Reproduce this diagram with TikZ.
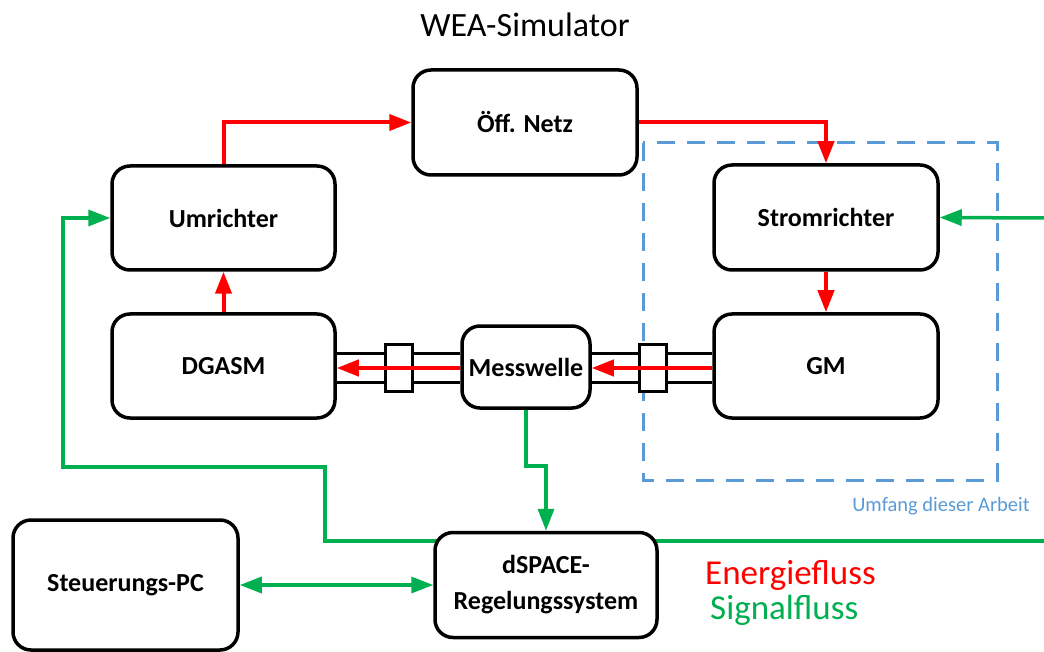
\documentclass[tikz,border=0pt]{standalone}
\usepackage{fontspec}
\setmainfont{Carlito}
\usetikzlibrary{arrows.meta,calc}
\definecolor{enred}{HTML}{FF0000}
\definecolor{sggreen}{HTML}{00B050}
\definecolor{scopeblue}{HTML}{5B9BD5}
\pgfdeclarelayer{background}
\pgfsetlayers{background,main}
\tikzset{
  box/.style={draw=black, line width=3.5pt, rounded corners=18pt, fill=white,
    align=center, font=\fontsize{26}{36}\selectfont\bfseries, inner sep=0pt},
  en/.style={draw=enred, line width=4pt, -{Triangle[length=22pt,width=16pt]}},
  sig/.style={draw=sggreen, line width=3.5pt},
  sigarrow/.style={sig, -{Triangle[length=22pt,width=16pt]}},
  shaft/.style={draw=black, line width=3pt},
  coupling/.style={draw=black, line width=3pt, fill=white, minimum width=27pt, minimum height=47pt, inner sep=0pt},
  scopebox/.style={draw=scopeblue, line width=3pt, dash pattern=on 18pt off 12pt}
}
\begin{document}
\begin{tikzpicture}[x=1pt,y=-1pt]
\useasboundingbox (0,0) rectangle (1044,652);
% title
\node[font=\fontsize{34}{40}\selectfont] (title) at (525,25) {WEA-Simulator};
% scope
\draw[scopebox] (643,143) rectangle (997,480);
\node[font=\fontsize{20.5}{24}\selectfont, text=scopeblue] (scopelbl) at (941,506) {Umfang dieser Arbeit};
% boxes
\node[box, minimum width=224pt, minimum height=105pt] (netz) at (525,122.5) {Öff. Netz};
\node[box, minimum width=223pt, minimum height=104pt] (umr) at (223.5,218) {Umrichter};
\node[box, minimum width=224pt, minimum height=105pt] (strom) at (826,217.5) {Stromrichter};
\node[box, minimum width=223pt, minimum height=104pt] (dgasm) at (223.5,366) {DGASM};
\node[box, minimum width=224pt, minimum height=104pt] (gm) at (826,366) {GM};
\node[box, minimum width=128pt, minimum height=82pt] (mess) at (526,367) {Messwelle};
\node[box, minimum width=225pt, minimum height=130pt] (pc) at (125.5,585) {Steuerungs-PC};
\node[box, minimum width=222pt, minimum height=105pt] (dspace) at (546,585) {dSPACE-\\Regelungssystem};
% couplings
\node[coupling] (c1) at (398.5,367.5) {};
\node[coupling] (c2) at (653,367.5) {};
% free ends / bends
\coordinate (eR1) at (1044,218);
\coordinate (eR2) at (1044,541);
\coordinate (gA) at (325,541);
\coordinate (gB) at (325,467);
\coordinate (gC) at (63,467);
\begin{pgfonlayer}{background}
  % shafts
  \draw[shaft] (dgasm.east |- 0,353) -- (mess.west |- 0,353);
  \draw[shaft] (dgasm.east |- 0,382) -- (mess.west |- 0,382);
  \draw[shaft] (mess.east |- 0,353) -- (gm.west |- 0,353);
  \draw[shaft] (mess.east |- 0,382) -- (gm.west |- 0,382);
  % green lines hidden under boxes
  \draw[sigarrow] (dspace.center |- gA) -- (gA) -- (gB) -- (gC) |- (umr.west);
  \draw[sig] (dspace.center |- eR2) -- (eR2);
\end{pgfonlayer}
% energy flow
\draw[en] (umr.north) |- (netz.west);
\draw[en] (netz.east) -| (strom.north);
\draw[en] (strom.south) -- (gm.north);
\draw[en] (dgasm.north) -- (umr.south);
\draw[en] (mess.west |- 0,368) -- (dgasm.east |- 0,368);
\draw[en] (gm.west |- 0,368) -- (mess.east |- 0,368);
% signal flow
\draw[sigarrow] (eR1) -- (strom.east);
\draw[sigarrow] (mess.south) -- ++(0,56) -| (dspace.north);
\draw[sig, {Triangle[length=22pt,width=16pt]}-{Triangle[length=22pt,width=16pt]}] (pc.east) -- (dspace.west);
% legend
\node[anchor=west, font=\fontsize{35}{40}\selectfont, text=enred, inner sep=0pt] (leg1) at (705,575) {Energiefluss};
\node[anchor=west, font=\fontsize{35}{40}\selectfont, text=sggreen, inner sep=0pt] (leg2) at (710,610) {Signalfluss};
\end{tikzpicture}
\end{document}
